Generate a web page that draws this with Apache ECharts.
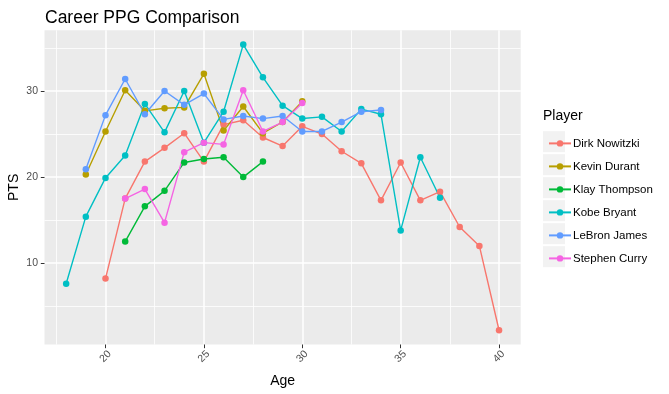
<!DOCTYPE html>
<html>
<head>
<meta charset="utf-8">
<script src="https://cdn.jsdelivr.net/npm/echarts@6/dist/echarts.min.js"></script>
<style>html,body{margin:0;padding:0;background:#fff}#c{width:669px;height:394px}</style>
</head>
<body>
<div id="c"></div>
<script>
var players = ['Dirk Nowitzki','Kevin Durant','Klay Thompson','Kobe Bryant','LeBron James','Stephen Curry'];
var colors = ['#F8766D','#B79F00','#00BA38','#00BFC4','#619CFF','#F564E3'];
var startAge = [20, 19, 21, 18, 19, 21];
var dirk = [8.2,17.5,21.8,23.4,25.1,21.8,26.1,26.6,24.6,23.6,25.9,25.0,23.0,21.6,17.3,21.7,17.3,18.3,14.2,12.0,2.2];
var durant = [20.3,25.3,30.1,27.7,28.0,28.1,32.0,25.4,28.2,25.1,26.4,28.8];
var klay = [12.5,16.6,18.4,21.7,22.1,22.3,20.0,21.8];
var kobe = [7.6,15.4,19.9,22.5,28.5,25.2,30.0,24.0,27.6,35.4,31.6,28.3,26.8,27.0,25.3,27.9,27.3,13.8,22.3,17.6];
var lebron = [20.9,27.2,31.4,27.3,30.0,28.4,29.7,26.7,27.1,26.8,27.1,25.3,25.3,26.4,27.6,27.8];
var curry = [17.5,18.6,14.7,22.9,24.0,23.8,30.1,25.3,26.4,28.6];
var ppg = [dirk, durant, klay, kobe, lebron, curry];
var xMajor = [20,25,30,35,40];
var xMinor = [17.5,22.5,27.5,32.5,37.5];
var yMajor = [10,20,30];
var yMinor = [5,15,25,35];
var xMin = 16.9, xMax = 41.1, yMin = 0.54, yMax = 37.06;

var series = players.map(function(p, i){
  return {
    name: p, type: 'line', xAxisIndex: 0, yAxisIndex: 0,
    data: ppg[i].map(function(v, k){ return [startAge[i] + k, v]; }),
    symbol: 'circle', symbolSize: 6.5, showSymbol: true,
    lineStyle: {width: 1.4, color: colors[i]},
    itemStyle: {color: colors[i]},
    emphasis: {disabled: true},
    animation: false
  };
});

var keyRects = players.map(function(p, i){
  return {type:'rect', z: 0, shape:{x:543, y:131.2 + 23*i, width:22, height:21}, style:{fill:'#F2F2F2'}};
});
keyRects.push({type:'text', z: 5, style:{x:543, y:116, text:'Player', font:'14px "Liberation Sans", Arial, sans-serif', fill:'#000', verticalAlign:'middle'}});

var axisFont = '"Liberation Sans", Arial, sans-serif';
var chart = echarts.init(document.getElementById('c'), null, {renderer:'canvas'});
chart.setOption({
  animation: false,
  title: {text:'Career PPG Comparison', left: 40, top: 4, textStyle:{fontFamily: axisFont, fontSize: 17.5, fontWeight:'normal', color:'#000'}},
  grid: {left: 44.5, right: 148.3, top: 30.3, bottom: 49.5, show: true, backgroundColor:'#EBEBEB', borderWidth: 0, containLabel: false, outerBoundsMode: 'none'},
  legend: {
    orient:'vertical', left: 543, top: 132.4, itemWidth: 22, itemHeight: 8, itemGap: 11,
    data: players, selectedMode: false,
    textStyle:{fontFamily: axisFont, fontSize: 11.5, color:'#000', padding:[0,0,0,-3]}
  },
  graphic: keyRects,
  xAxis: [{
    type:'value', min: xMin, max: xMax, position:'bottom',
    name:'Age', nameLocation:'middle', nameGap: 30, nameMoveOverlap: false,
    nameTextStyle:{fontFamily: axisFont, fontSize: 14, color:'#000'},
    axisLine:{show:false},
    axisTick:{show:true, length: 3.7, lineStyle:{color:'#333', width:1}, customValues: xMajor},
    axisLabel:{customValues: xMajor, rotate: 45, align:'center', verticalAlign:'middle', margin: 12, fontFamily: axisFont, fontSize: 10.5, color:'#4D4D4D'},
    splitLine:{show:true, lineStyle:{color:'#fff', width:1.5}}
  },{
    type:'value', min: xMin, max: xMax, position:'bottom',
    axisLine:{show:false},
    axisTick:{show:false, customValues: xMinor},
    axisLabel:{show:false, customValues: xMinor},
    splitLine:{show:true, lineStyle:{color:'#fff', width:0.8}}
  }],
  yAxis: [{
    type:'value', min: yMin, max: yMax,
    name:'PTS', nameLocation:'middle', nameGap: 23, nameRotate: 90, nameMoveOverlap: false,
    nameTextStyle:{fontFamily: axisFont, fontSize: 14, color:'#000'},
    axisLine:{show:false},
    axisTick:{show:true, length: 3.7, lineStyle:{color:'#333', width:1}, customValues: yMajor},
    axisLabel:{customValues: yMajor, margin: 6.5, fontFamily: axisFont, fontSize: 10.5, color:'#4D4D4D'},
    splitLine:{show:true, lineStyle:{color:'#fff', width:1.5}}
  },{
    type:'value', min: yMin, max: yMax, position:'left',
    axisLine:{show:false},
    axisTick:{show:false, customValues: yMinor},
    axisLabel:{show:false, customValues: yMinor},
    splitLine:{show:true, lineStyle:{color:'#fff', width:0.8}}
  }],
  series: series
});
</script>
</body>
</html>
